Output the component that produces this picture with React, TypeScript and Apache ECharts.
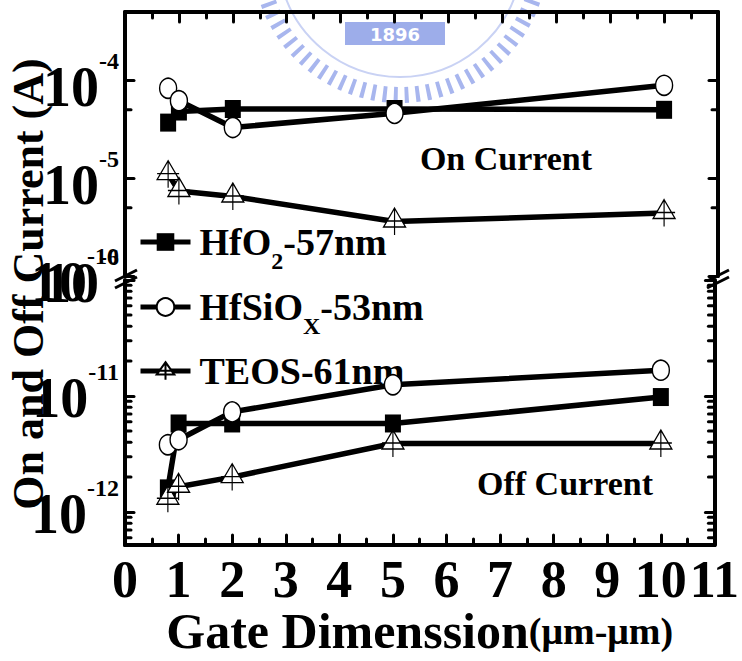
import React, { useEffect, useRef } from 'react';
import * as echarts from 'echarts';

// ---- data ----
const gateDims = [0.8, 1, 2, 5, 10];

const hfo2On = [3.7e-5, 4.8e-5, 5.1e-5, 5.1e-5, 5.0e-5];
const hfsioxOn = [8.3e-5, 6.2e-5, 3.3e-5, 4.6e-5, 8.9e-5];
const teosOn = [1.1e-5, 7.4e-6, 6.5e-6, 3.6e-6, 4.4e-6];

const hfo2Off = [1.6e-12, 5.8e-12, 5.8e-12, 5.8e-12, 9.8e-12];
const hfsioxOff = [3.8e-12, 4.2e-12, 7.3e-12, 1.25e-11, 1.67e-11];
const teosOff = [1.3e-12, 1.65e-12, 2.0e-12, 3.9e-12, 3.9e-12];

const seriesNames = ['HfO2-57nm', 'HfSiOX-53nm', 'TEOS-61nm'];
const legendRich = ['{n|HfO}{sub|2}{n|-57nm}', '{n|HfSiO}{sub|X}{n|-53nm}', '{n|TEOS-61nm}'];

const topMinorTicks = [5e-6, 5e-5];
const bottomMinorTicks = [
  6e-13, 7e-13, 8e-13, 9e-13,
  2e-12, 3e-12, 4e-12, 5e-12, 6e-12, 7e-12, 8e-12, 9e-12,
  2e-11, 3e-11, 4e-11, 5e-11, 6e-11, 7e-11, 8e-11, 9e-11,
];

const X_MIN = 0;
const X_MAX = 11;
const TOP_MIN = 1e-6;
const TOP_MAX = 5e-4;
const BOT_MIN = 5.2e-13;
const BOT_MAX = 1e-10;

const FONT = 'Liberation Serif';

const triPath = 'path://M11 0 L22 19 L0 19 Z M11 0 L11 27 M0 13 L22 13';

const powLabel = (v: number) => {
  const e = Math.log10(v);
  const r = Math.round(e);
  if (Math.abs(e - r) > 0.01) return '';
  return `{b|10}{s|${r}}`;
};

const yLabelRich = {
  b: { fontSize: 56, fontWeight: 'bold', fontFamily: FONT, color: '#000', lineHeight: 56, verticalAlign: 'middle' },
  s: { fontSize: 24, fontWeight: 'bold', fontFamily: FONT, color: '#000', height: 3, verticalAlign: 'top' },
};

const tickStyle = { color: '#000', width: 3, cap: 'round' };
const axisLineStyle = { color: '#000', width: 4 };

function makeYAxis(gridIndex: number, pos: 'left' | 'right', min: number, max: number, padTop: number) {
  return {
    type: 'log',
    logBase: 10,
    gridIndex,
    position: pos,
    min,
    max,
    axisLine: { show: true, onZero: false, lineStyle: axisLineStyle },
    axisTick: { show: true, inside: true, length: 9, lineStyle: tickStyle },
    minorTick: { show: false },
    splitLine: { show: false },
    axisLabel: pos === 'left'
      ? { show: true, formatter: powLabel, margin: 6, padding: [padTop, 0, 0, 0], rich: yLabelRich }
      : { show: false },
  };
}

function minorTickSeries(xIdx: number, yIdx: number, vals: number[]) {
  return {
    type: 'custom',
    xAxisIndex: xIdx,
    yAxisIndex: yIdx,
    silent: true,
    z: 4,
    data: vals.map((v) => [X_MIN, v]),
    encode: { x: 0, y: 1 },
    renderItem: (_p: any, api: any) => {
      const v = api.value(1);
      const l = api.coord([X_MIN, v]);
      const r = api.coord([X_MAX, v]);
      const st = { stroke: '#000', lineWidth: 3, lineCap: 'round' };
      return {
        type: 'group',
        children: [
          { type: 'line', shape: { x1: l[0], y1: l[1], x2: l[0] + 6, y2: l[1] }, style: st },
          { type: 'line', shape: { x1: r[0] - 6, y1: r[1], x2: r[0], y2: r[1] }, style: st },
        ],
      };
    },
  };
}

const lineStyle = { color: '#000', width: 5.5 };
const seriesStyles = [
  { symbol: 'rect', symbolSize: [16, 18], itemStyle: { color: '#000', borderColor: '#000', borderWidth: 0 } },
  { symbol: 'circle', symbolSize: [17, 20], itemStyle: { color: '#fff', borderColor: '#000', borderWidth: 1.5 } },
  { symbol: triPath, symbolSize: [22, 27], itemStyle: { color: '#fff', borderColor: '#000', borderWidth: 1.3 } },
];

function lineSeries(k: number, vals: number[], xIdx: number, yIdx: number) {
  return {
    type: 'line',
    name: seriesNames[k],
    xAxisIndex: xIdx,
    yAxisIndex: yIdx,
    data: gateDims.map((x, i) => [x, vals[i]]),
    showSymbol: true,
    showAllSymbol: true,
    lineStyle,
    z: 5,
    ...seriesStyles[k],
  };
}

const legendCenters = [243, 308, 372];

export default function App() {
  const ref = useRef<HTMLDivElement>(null);

  useEffect(() => {
    if (!ref.current) return;
    const chart = echarts.init(ref.current, undefined, { renderer: 'svg' });

    const xAxisCommon = {
      type: 'value',
      min: X_MIN,
      max: X_MAX,
      interval: 1,
      splitLine: { show: false },
      axisLine: { show: true, onZero: false, lineStyle: axisLineStyle },
      axisTick: { show: true, inside: true, length: 10, lineStyle: tickStyle },
      minorTick: { show: true, splitNumber: 2, length: 6, lineStyle: tickStyle },
    };

    const option: any = {
      animation: false,
      backgroundColor: '#fff',
      grid: [
        { left: 125, right: 24, top: 12, height: 264 },
        { left: 125, right: 24, top: 280, height: 265 },
      ],
      xAxis: [
        { ...xAxisCommon, gridIndex: 0, position: 'top', axisLabel: { show: false } },
        {
          ...xAxisCommon,
          gridIndex: 1,
          position: 'bottom',
          axisLabel: { show: true, fontSize: 52, fontWeight: 'bold', fontFamily: FONT, color: '#000', margin: 8 },
          name: '{a|Gate Dimenssion}{b|(μm-μm)}',
          nameLocation: 'middle',
          nameGap: 46,
          nameTextStyle: {
            rich: {
              a: { fontSize: 50, fontWeight: 'bold', fontFamily: FONT, color: '#000', lineHeight: 50 },
              b: { fontSize: 38, fontWeight: 'bold', fontFamily: FONT, color: '#000' },
            },
          },
        },
      ],
      yAxis: [
        makeYAxis(0, 'left', TOP_MIN, TOP_MAX, 14),
        makeYAxis(0, 'right', TOP_MIN, TOP_MAX, 0),
        makeYAxis(1, 'left', BOT_MIN, BOT_MAX, 4),
        makeYAxis(1, 'right', BOT_MIN, BOT_MAX, 0),
      ],
      legend: seriesNames.map((nm, i) => ({
        data: [nm],
        left: 133,
        top: legendCenters[i] - 25,
        orient: 'vertical',
        itemWidth: 50,
        itemHeight: 22,
        selectedMode: false,
        lineStyle: { width: 5 },
        formatter: () => legendRich[i],
        textStyle: {
          padding: [0, 0, 0, 4],
          rich: {
            n: { fontSize: 38, fontWeight: 'bold', fontFamily: FONT, color: '#000', lineHeight: 40, verticalAlign: 'middle' },
            sub: { fontSize: 24, fontWeight: 'bold', fontFamily: FONT, color: '#000', height: 2, verticalAlign: 'bottom' },
          },
        },
      })),
      series: [
        lineSeries(0, hfo2On, 0, 0),
        lineSeries(1, hfsioxOn, 0, 0),
        lineSeries(2, teosOn, 0, 0),
        lineSeries(0, hfo2Off, 1, 2),
        lineSeries(1, hfsioxOff, 1, 2),
        lineSeries(2, teosOff, 1, 2),
        minorTickSeries(0, 0, topMinorTicks),
        minorTickSeries(1, 2, bottomMinorTicks),
      ],
      graphic: [
        // faint watermark seal behind the plot
        {
          type: 'group',
          z: -10,
          silent: true,
          children: [
            { type: 'arc', shape: { cx: 400, cy: -45, r: 140, startAngle: 0.25, endAngle: Math.PI - 0.25 }, style: { stroke: '#a8b6ee', lineWidth: 16, lineDash: [4, 7], fill: null } },
            { type: 'arc', shape: { cx: 400, cy: -45, r: 122, startAngle: 0.2, endAngle: Math.PI - 0.2 }, style: { stroke: '#c9d2f4', lineWidth: 2, fill: null } },
            { type: 'rect', shape: { x: 345, y: 22, width: 100, height: 23 }, style: { fill: '#9dadea' } },
            { type: 'text', x: 395, y: 34, style: { text: '1896', fill: '#fff', fontSize: 18, fontWeight: 'bold', fontFamily: 'DejaVu Sans', textAlign: 'center', textVerticalAlign: 'middle' } },
          ],
        },
        // y-axis title
        {
          type: 'text',
          x: 28,
          y: 284,
          rotation: Math.PI / 2,
          z: 20,
          style: { text: 'On and Off Current (A)', fontSize: 44, fontWeight: 'bold', fontFamily: FONT, fill: '#000', textAlign: 'center', textVerticalAlign: 'middle' },
        },
        // annotations
        {
          type: 'text', x: 506, y: 158, z: 20,
          style: { text: 'On Current', fontSize: 34, fontWeight: 'bold', fontFamily: FONT, fill: '#000', textAlign: 'center', textVerticalAlign: 'middle' },
        },
        {
          type: 'text', x: 565, y: 483, z: 20,
          style: { text: 'Off Current', fontSize: 34, fontWeight: 'bold', fontFamily: FONT, fill: '#000', textAlign: 'center', textVerticalAlign: 'middle' },
        },
        // axis break marks
        {
          type: 'group', z: 30, silent: true,
          children: [
            { type: 'polygon', shape: { points: [[115, 281], [137, 270], [137, 277], [115, 288]] }, style: { fill: '#fff' } },
            { type: 'line', shape: { x1: 115, y1: 281, x2: 137, y2: 270 }, style: { stroke: '#000', lineWidth: 3 } },
            { type: 'line', shape: { x1: 115, y1: 288, x2: 137, y2: 277 }, style: { stroke: '#000', lineWidth: 3 } },
            { type: 'polygon', shape: { points: [[707, 281], [729, 270], [729, 277], [707, 288]] }, style: { fill: '#fff' } },
            { type: 'line', shape: { x1: 707, y1: 281, x2: 729, y2: 270 }, style: { stroke: '#000', lineWidth: 3 } },
            { type: 'line', shape: { x1: 707, y1: 288, x2: 729, y2: 277 }, style: { stroke: '#000', lineWidth: 3 } },
          ],
        },
      ],
    };

    chart.setOption(option);
    return () => chart.dispose();
  }, []);

  return (
    <div
      ref={ref}
      style={{ position: 'fixed', left: 0, top: 0, width: 742, height: 661, background: '#fff' }}
    />
  );
}
